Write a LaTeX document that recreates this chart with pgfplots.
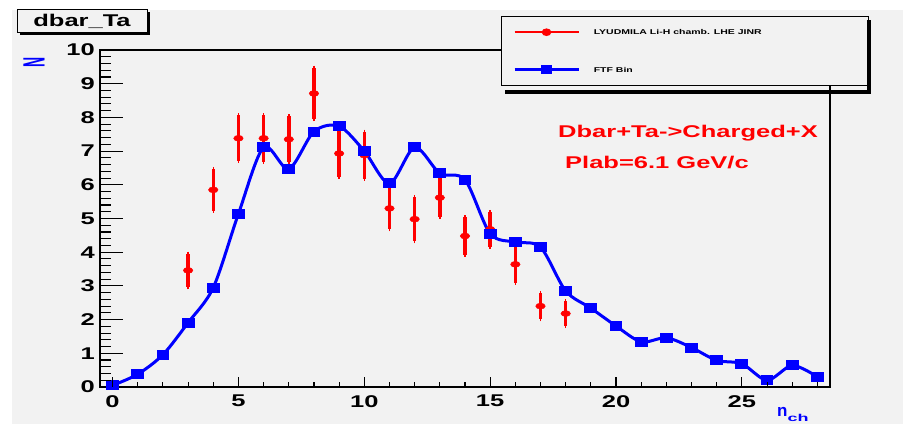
\documentclass[border=0pt]{standalone}
\usepackage{pgfplots}
\pgfplotsset{compat=1.18}
\usepackage{fontspec}
\setmainfont{Liberation Sans}
\usetikzlibrary{shadows}
\definecolor{bgray}{RGB}{242,242,242}
\definecolor{rootblue}{RGB}{0,0,255}
\definecolor{rootred}{RGB}{255,0,0}
\newcommand{\sx}[1]{\scalebox{1.5}[1]{#1}}
\pgfplotstableread{
x y e
3 3.46 0.50
4 5.85 0.62
5 7.38 0.68
6 7.38 0.69
7 7.35 0.68
8 8.71 0.77
9 6.93 0.70
10 6.88 0.70
11 5.30 0.62
12 4.98 0.66
13 5.62 0.58
14 4.48 0.55
15 4.68 0.52
16 3.64 0.55
17 2.40 0.39
18 2.18 0.37
}\datared
\pgfplotstableread{
x y
0 0.05
1 0.38
2 0.96
3 1.91
4 2.95
5 5.14
6 7.11
7 6.47
8 7.58
9 7.74
10 7.00
11 6.04
12 7.11
13 6.34
14 6.15
15 4.55
16 4.30
17 4.15
18 2.85
19 2.34
20 1.81
21 1.34
22 1.46
23 1.17
24 0.79
25 0.69
26 0.20
27 0.64
28 0.30
}\datablue
\begin{document}
\begin{tikzpicture}
\fill[white] (0pt,0pt) rectangle (903pt,424pt);
\fill[bgray] (12pt,0pt) rectangle (903pt,414pt);
\useasboundingbox (0pt,0pt) rectangle (903pt,424pt);
\begin{axis}[
  at={(100pt,37pt)}, anchor=south west, scale only axis,
  width=730pt, height=337pt,
  xmin=-0.5, xmax=28.5, ymin=0, ymax=10,
  axis line style={line width=1.2pt, black},
  tick pos=left, tick align=inside,
  xtick={0,5,...,25},
  ytick={0,1,...,10},
  major tick length=0pt, minor tick length=0pt,
  /pgf/number format/assume math mode=true,
  tick label style={font=\bfseries\fontsize{17}{17}\selectfont, inner sep=0pt},
  xticklabel={\sx{\pgfmathprintnumber{\tick}}},
  yticklabel={\sx{\pgfmathprintnumber{\tick}}},
  xticklabel style={yshift=-8pt},
  yticklabel style={xshift=-5pt},
  legend style={at={(0.549,1.101)}, anchor=north west, draw=black, line width=1pt,
    fill=bgray, font=\bfseries\fontsize{7}{8}\selectfont,
    inner xsep=12pt, inner ysep=11.5pt, row sep=29pt, column sep=14pt,
    nodes={inner sep=0pt}, cells={anchor=west}},
]
\addplot[only marks, color=rootred, mark=*, mark size=3pt, mark options={xscale=1.6},
  legend image code/.code={\draw[sharp plot, mark repeat=2, mark phase=2, rootred, line width=2.5pt, mark=*, mark size=2.5pt, mark options={xscale=1.4}] plot coordinates {(0pt,0pt)(32pt,0pt)(64pt,0pt)};},
  error bars/.cd, y dir=both, y explicit,
  error bar style={line width=3.5pt, rootred},
  error mark options={mark size=2pt, line width=1.5pt}]
  table[x=x, y=y, y error=e] {\datared};
\addlegendentry{\sx{\makebox[175pt][l]{\rule[-3pt]{0pt}{10pt}LYUDMILA Li-H chamb. LHE JINR}}}
\addplot[color=rootblue, line width=3pt, smooth, tension=0.5, mark=square*, mark size=3.5pt, mark options={xscale=1.4},
  legend image code/.code={\draw[sharp plot, mark repeat=2, mark phase=2, rootblue, line width=2.5pt, mark=square*, mark size=3pt, mark options={xscale=1.4}] plot coordinates {(0pt,0pt)(32pt,0pt)(64pt,0pt)};}]
  table[x=x, y=y] {\datablue};
\addlegendentry{\sx{\makebox[175pt][l]{\rule[-3pt]{0pt}{10pt}FTF Bin}}}
\end{axis}
% ROOT-style tick lines (inside the frame), drawn as thin filled rectangles
\foreach \i in {0,...,28} {
  \pgfmathsetmacro{\xa}{112.586+25.1724*\i-0.55}
  \pgfmathsetmacro{\xb}{112.586+25.1724*\i+0.55}
  \fill[black] (\xa pt,37.5pt) rectangle (\xb pt,42pt);
}
\foreach \i in {0,...,5} {
  \pgfmathsetmacro{\xa}{112.586+125.862*\i-0.55}
  \pgfmathsetmacro{\xb}{112.586+125.862*\i+0.55}
  \fill[black] (\xa pt,37.5pt) rectangle (\xb pt,47pt);
}
\foreach \i in {1,...,49} {
  \pgfmathsetmacro{\ya}{37+6.74*\i-0.55}
  \pgfmathsetmacro{\yb}{37+6.74*\i+0.55}
  \fill[black] (100.5pt,\ya pt) rectangle (111pt,\yb pt);
}
\foreach \i in {1,...,9} {
  \pgfmathsetmacro{\ya}{37+33.7*\i-0.55}
  \pgfmathsetmacro{\yb}{37+33.7*\i+0.55}
  \fill[black] (100.5pt,\ya pt) rectangle (123pt,\yb pt);
}
\fill[black] (866.5pt,330pt) rectangle (870.5pt,404pt);
\fill[black] (505pt,330pt) rectangle (870.5pt,333.5pt);
\node[draw=black, line width=1pt, fill=bgray, minimum width=130pt, minimum height=23pt, inner sep=0pt,
  drop shadow={fill=black, opacity=1, shadow xshift=2.5pt, shadow yshift=-2.5pt},
  font=\bfseries\fontsize{17}{17}\selectfont] at (82pt,402.5pt) {\sx{dbar\_Ta}};
\node[anchor=west, text=rootred, font=\bfseries\fontsize{17}{17}\selectfont, inner sep=0pt] at (558pt,291pt) {\sx{Dbar+Ta->Charged+X}};
\node[anchor=west, text=rootred, font=\bfseries\fontsize{17}{17}\selectfont, inner sep=0pt] at (565pt,261pt) {\sx{Plab=6.1 GeV/c}};
\node[text=rootblue, font=\bfseries\fontsize{14}{14}\selectfont, rotate=90, inner sep=0pt] at (34pt,362pt) {\scalebox{1}[2.2]{N}};
\node[anchor=base west, text=rootblue, font=\bfseries\fontsize{17}{17}\selectfont, inner sep=0pt] at (777pt,7.5pt) {n\raisebox{-5pt}{\scalebox{1.8}[1]{\fontsize{10}{10}\selectfont ch}}};
\end{tikzpicture}
\end{document}
